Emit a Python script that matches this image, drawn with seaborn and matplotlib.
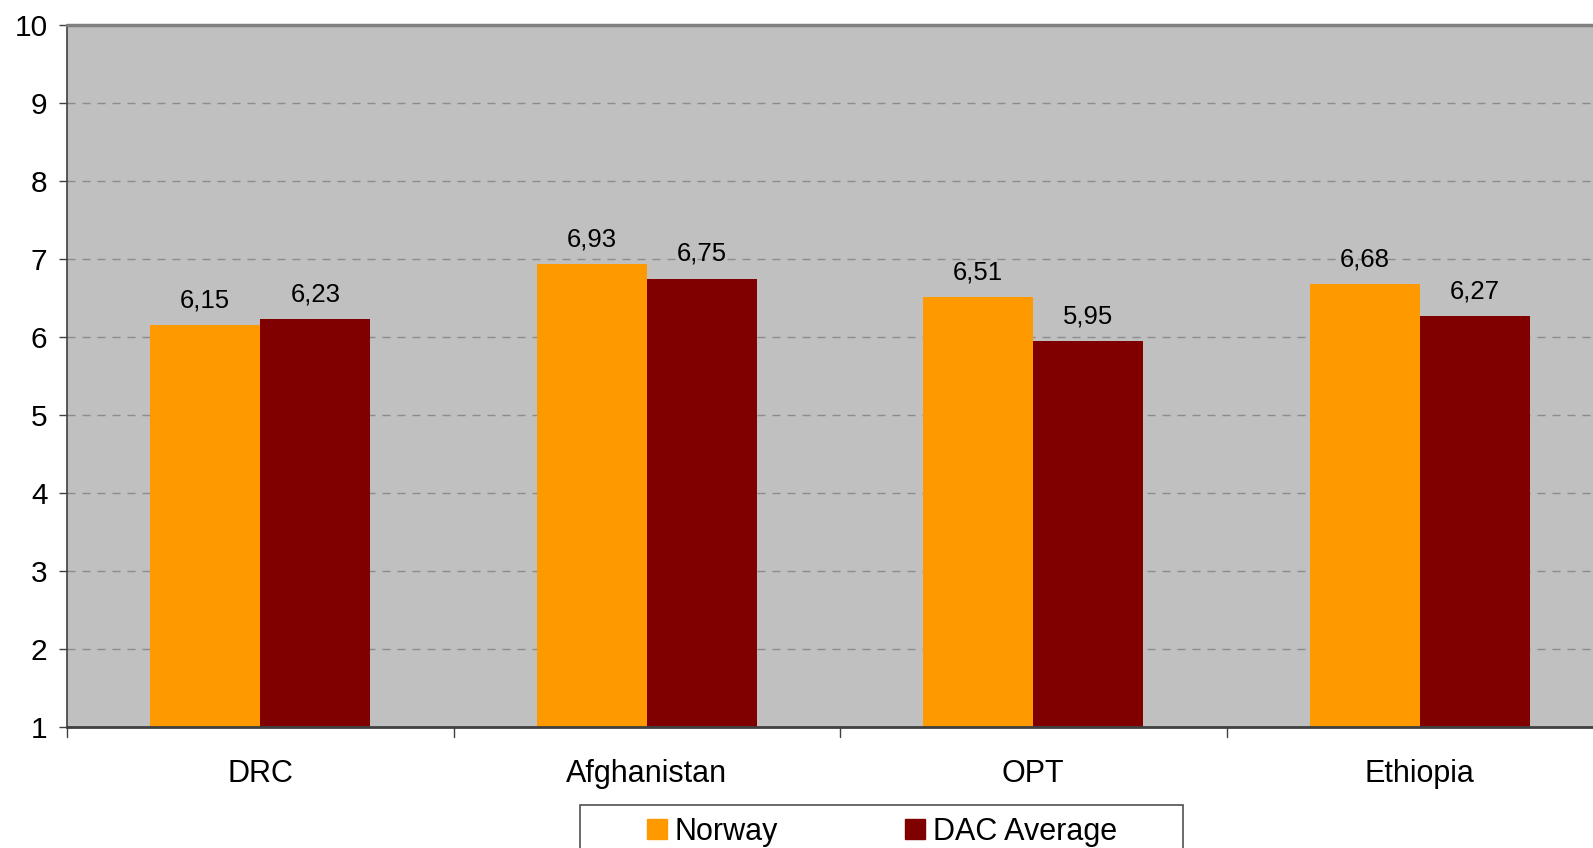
import numpy as np
import pandas as pd
import matplotlib
matplotlib.use("Agg")
import matplotlib.pyplot as plt
from matplotlib.patches import Rectangle
import seaborn as sns

# chart data
countries = ["DRC", "Afghanistan", "OPT", "Ethiopia"]
norway = [6.15, 6.93, 6.51, 6.68]
dac_average = [6.23, 6.75, 5.95, 6.27]
series_names = ["Norway", "DAC Average"]
y_ticks = [1, 2, 3, 4, 5, 6, 7, 8, 9, 10]

df = pd.DataFrame({
    "country": countries * 2,
    "score": norway + dac_average,
    "series": [series_names[0]] * len(countries) + [series_names[1]] * len(countries),
})

sns.set_style("white")
plt.rcParams["font.family"] = ["Liberation Sans", "DejaVu Sans"]
plt.rcParams["text.color"] = "black"
plt.rcParams["xtick.color"] = "black"
plt.rcParams["ytick.color"] = "black"

W, H = 1593, 848
fig = plt.figure(figsize=(W / 100, H / 100), dpi=100)
# plot area runs a bit past the right edge of the picture, as in the original
ax_left, ax_right, ax_top, ax_bottom = 67, 1613, 25, 727
ax = fig.add_axes([ax_left / W, 1 - ax_bottom / H,
                   (ax_right - ax_left) / W, (ax_bottom - ax_top) / H])
ax.set_facecolor("#C0C0C0")

palette = {"Norway": "#FF9900", "DAC Average": "#800000"}
sns.barplot(data=df, x="country", y="score", hue="series", palette=palette,
            width=0.57, saturation=1, linewidth=0, ax=ax, legend=False)

# bars start from the axis floor at 1
ax.set_ylim(1, 10)
ax.set_xlim(-0.5, 3.5)
for c, vals in zip(ax.containers, [norway, dac_average]):
    for p in c.patches:
        h = p.get_height()
        p.set_y(1)
        p.set_height(h - 1)
    ax.bar_label(c, labels=[f"{v:.2f}".replace(".", ",") for v in vals],
                 padding=9, fontsize=18.5, color="black")

ax.set_yticks(y_ticks)
ax.set_yticklabels([str(t) for t in y_ticks], fontsize=21.5)
ax.set_xticks(range(len(countries)))
ax.set_xticklabels(countries, fontsize=22)
ax.tick_params(axis="x", length=0, pad=23)
ax.tick_params(axis="y", length=6, width=1, color="#404040", pad=8, left=True)

# category separators on the x axis
for b in [-0.5, 0.5, 1.5, 2.5, 3.5]:
    ax.plot([b, b], [0, -10 / (ax_bottom - ax_top)], transform=ax.get_xaxis_transform(),
            color="#404040", lw=1, clip_on=False)

for y in y_ticks[1:-1]:
    ax.axhline(y, color="#8C8C8C", lw=1, ls=(0, (5.8, 5)), zorder=0.5)
ax.axhline(10, color="#808080", lw=2.5, zorder=3, clip_on=False)

for s in ["top", "right"]:
    ax.spines[s].set_visible(False)
ax.spines["left"].set_color("#404040")
ax.spines["bottom"].set_color("#404040")
ax.spines["left"].set_linewidth(1.2)
ax.spines["bottom"].set_linewidth(2)
ax.set_xlabel("")
ax.set_ylabel("")

# legend: entries without frame, plus a hand-sized box that runs off the bottom
handles = [plt.Rectangle((0, 0), 1, 1, color=palette[s]) for s in series_names]
leg = fig.legend(handles, series_names, loc="center left",
                 bbox_to_anchor=(647 / W, 1 - 832 / H), ncol=2, fontsize=22,
                 frameon=False, handlelength=0.65, handleheight=0.65,
                 handletextpad=0.26, columnspacing=4.15, borderpad=0,
                 borderaxespad=0)
fig.patches.append(Rectangle((580 / W, -0.05), (1183 - 580) / W, (848 - 805) / H + 0.05,
                             transform=fig.transFigure, facecolor="none",
                             edgecolor="#505050", lw=1.2, clip_on=False))

fig.savefig("out.png", dpi=100)
